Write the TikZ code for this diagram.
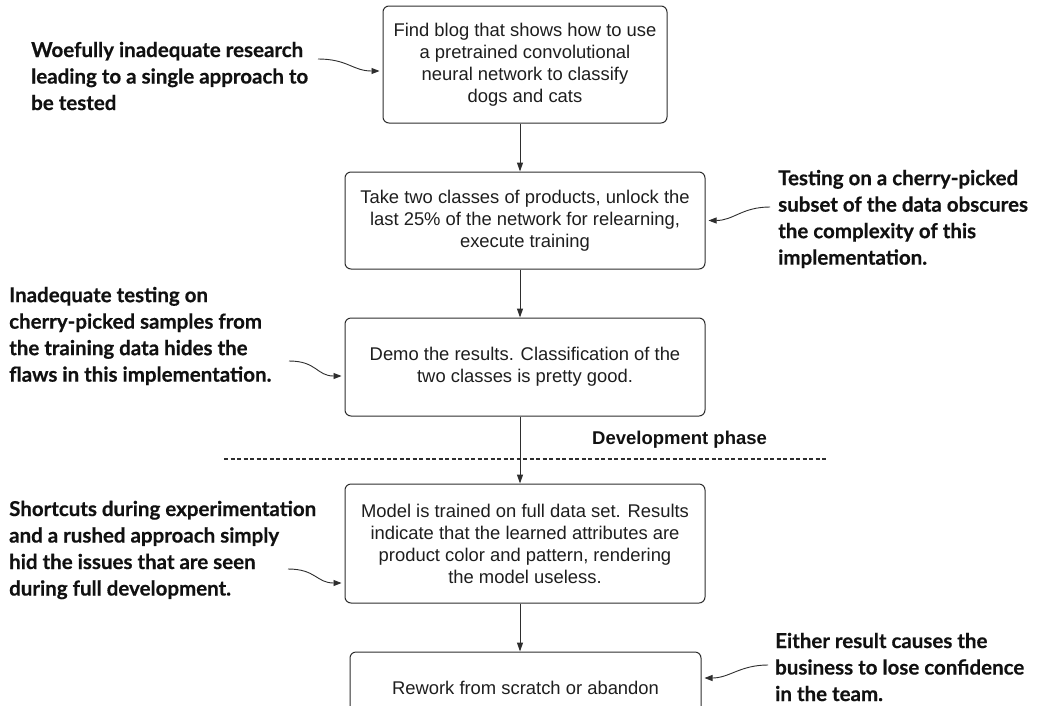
\documentclass[tikz,border=0pt]{standalone}
\usepackage{fontspec}
\setmainfont{Liberation Sans}
\newfontfamily\annfont{Lato}[BoldFeatures={FakeBold=0.5}]
\usetikzlibrary{arrows.meta}
\definecolor{boxline}{HTML}{2E2E2E}
\definecolor{textcol}{HTML}{1E1E1E}
\definecolor{notecol}{HTML}{111111}
\begin{document}
\begin{tikzpicture}[x=1pt,y=-1pt,
  stepbox/.style={draw=boxline, line width=1pt, rounded corners=6pt, align=center,
    font=\fontsize{18.4}{22}\selectfont, text=textcol, inner sep=0pt},
  note/.style={align=left, font=\annfont\bfseries\fontsize{20.5}{26.5}\selectfont,
    inner sep=0pt, anchor=west, text=notecol},
  flow/.style={-{Triangle[length=9pt,width=6pt]}, line width=1pt, draw=boxline},
  pointer/.style={-{Triangle[length=8pt,width=6pt]}, line width=0.9pt, draw=boxline, shorten >=3pt},
  phase/.style={draw=boxline, line width=1.1pt, dash pattern=on 4pt off 2.5pt},
  phaselabel/.style={font=\bfseries\fontsize{18.5}{21}\selectfont, text=notecol, inner sep=0pt, anchor=west}]

\useasboundingbox (0,0) rectangle (1047,705);
\fill[white] (0,0) rectangle (1047,705);
\clip (0,0) rectangle (1047,705);

% process steps
\node[stepbox, minimum width=284pt, minimum height=117pt] (b1) at (525,64.5)
  {Find blog that shows how to use\\ a pretrained convolutional\\ neural network to classify\\ dogs and cats};
\node[stepbox, minimum width=360pt, minimum height=97pt] (b2) at (525,220.5)
  {Take two classes of products, unlock the\\ last 25\% of the network for relearning,\\ execute training};
\node[stepbox, minimum width=360pt, minimum height=98pt] (b3) at (525,367)
  {Demo the results. Classification of the\\ two classes is pretty good.};
\node[stepbox, minimum width=360pt, minimum height=119pt] (b4) at (525,543.5)
  {Model is trained on full data set. Results\\ indicate that the learned attributes are\\ product color and pattern, rendering\\ the model useless.};
\node[stepbox, minimum width=351pt, minimum height=72pt] (b5) at (525.5,688)
  {Rework from scratch or abandon};

% flow between the steps
\coordinate (col) at (520,0);
\draw[flow] (b1.south -| col) -- (b2.north -| col);
\draw[flow] (b2.south -| col) -- (b3.north -| col);
\draw[flow] (b3.south -| col) -- (b4.north -| col);
\draw[flow] (b4.south -| col) -- (b5.north -| col);

% phase boundary
\coordinate (d1) at (224,459);
\coordinate (d2) at (827,459);
\draw[phase] (d1) -- (d2);
\node[phaselabel] (ph) at (592,440) {Development phase};

% commentary
\node[note] (n1) at (31,76) {Woefully inadequate research\\ leading to a single approach to\\ be tested};
\node[note] (n2) at (778,219) {Testing on a cherry-picked\\ subset of the data obscures\\ the complexity of this\\ implementation.};
\node[note] (n3) at (9,336) {Inadequate testing on\\ cherry-picked samples from\\ the training data hides the\\ flaws in this implementation.};
\node[note] (n4) at (9,550) {Shortcuts during experimentation\\ and a rushed approach simply\\ hid the issues that are seen\\ during full development.};
\node[note] (n5) at (775,667) {Either result causes the\\ business to lose confidence\\ in the team.};

\coordinate (s1) at (318,59);
\coordinate (s2) at (770,207);
\coordinate (s3) at (289,361);
\coordinate (s4) at (288,569);
\coordinate (s5) at (768,665);
\draw[pointer] (s1) .. controls +(30,0) and +(-30,0) .. ([yshift=-6.5pt]b1.west);
\draw[pointer] (s2) .. controls +(-28,0) and +(28,0) .. (b2.east);
\draw[pointer] (s3) .. controls +(28,0) and +(-28,0) .. ([yshift=-9pt]b3.west);
\draw[pointer] (s4) .. controls +(28,0) and +(-28,0) .. ([yshift=-39.5pt]b4.west);
\draw[pointer] (s5) .. controls +(-28,0) and +(28,0) .. ([yshift=10pt]b5.east);
\end{tikzpicture}
\end{document}
